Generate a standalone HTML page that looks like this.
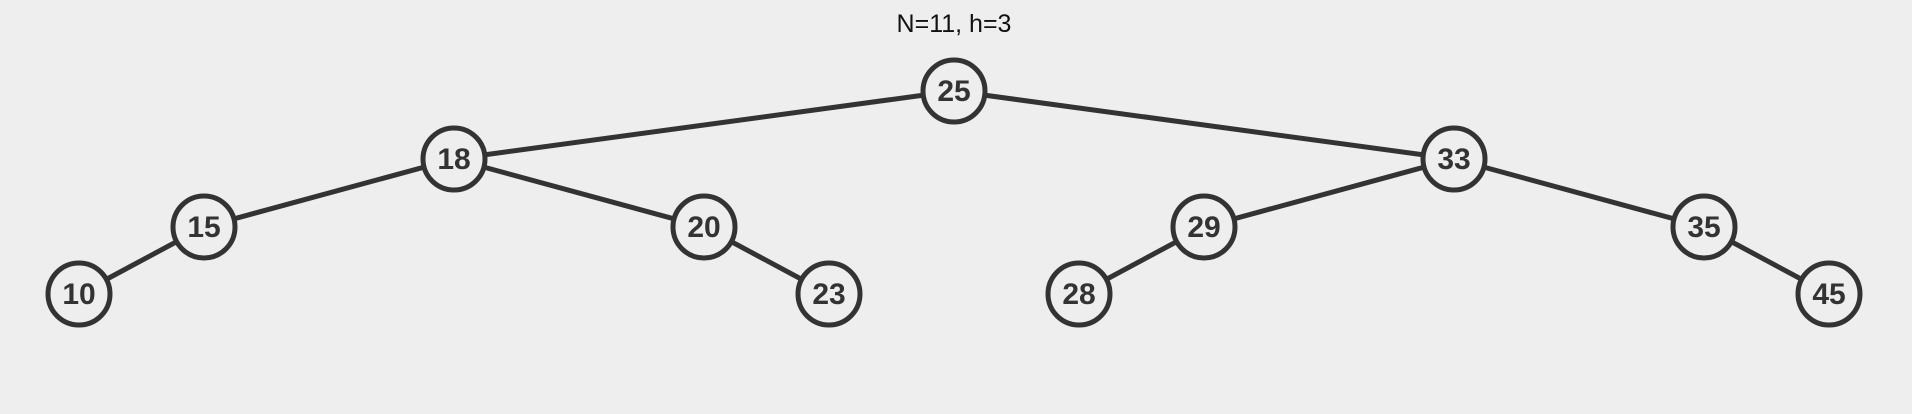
<!DOCTYPE html>
<html><head><style>
html,body{margin:0;padding:0;background:#eeeeee;}
svg{display:block;}
</style></head><body>
<svg width="1912" height="414" viewBox="0 0 1912 414" xmlns="http://www.w3.org/2000/svg">
<rect width="1912" height="414" fill="#eeeeee"/>
<text x="954" y="32" text-anchor="middle" font-family="Liberation Sans, sans-serif" font-size="25" fill="#111">N=11, h=3</text>
<g stroke="#333" stroke-width="5" fill="none">
<line x1="954" y1="91" x2="454" y2="159"/>
<line x1="954" y1="91" x2="1454" y2="159"/>
<line x1="454" y1="159" x2="204" y2="227"/>
<line x1="454" y1="159" x2="704" y2="227"/>
<line x1="204" y1="227" x2="79" y2="294"/>
<line x1="704" y1="227" x2="829" y2="294"/>
<line x1="1454" y1="159" x2="1204" y2="227"/>
<line x1="1454" y1="159" x2="1704" y2="227"/>
<line x1="1204" y1="227" x2="1079" y2="294"/>
<line x1="1704" y1="227" x2="1829" y2="294"/>
</g>
<g stroke="#333" stroke-width="5" fill="#eeeeee">
<circle cx="954" cy="91" r="31"/>
<circle cx="454" cy="159" r="31"/>
<circle cx="1454" cy="159" r="31"/>
<circle cx="204" cy="227" r="31"/>
<circle cx="704" cy="227" r="31"/>
<circle cx="1204" cy="227" r="31"/>
<circle cx="1704" cy="227" r="31"/>
<circle cx="79" cy="294" r="31"/>
<circle cx="829" cy="294" r="31"/>
<circle cx="1079" cy="294" r="31"/>
<circle cx="1829" cy="294" r="31"/>
</g>
<g font-family="Liberation Sans, sans-serif" font-size="30" font-weight="bold" fill="#333" text-anchor="middle">
<text x="954" y="101">25</text>
<text x="454" y="169">18</text>
<text x="1454" y="169">33</text>
<text x="204" y="237">15</text>
<text x="704" y="237">20</text>
<text x="1204" y="237">29</text>
<text x="1704" y="237">35</text>
<text x="79" y="304">10</text>
<text x="829" y="304">23</text>
<text x="1079" y="304">28</text>
<text x="1829" y="304">45</text>
</g>
</svg>
</body></html>
